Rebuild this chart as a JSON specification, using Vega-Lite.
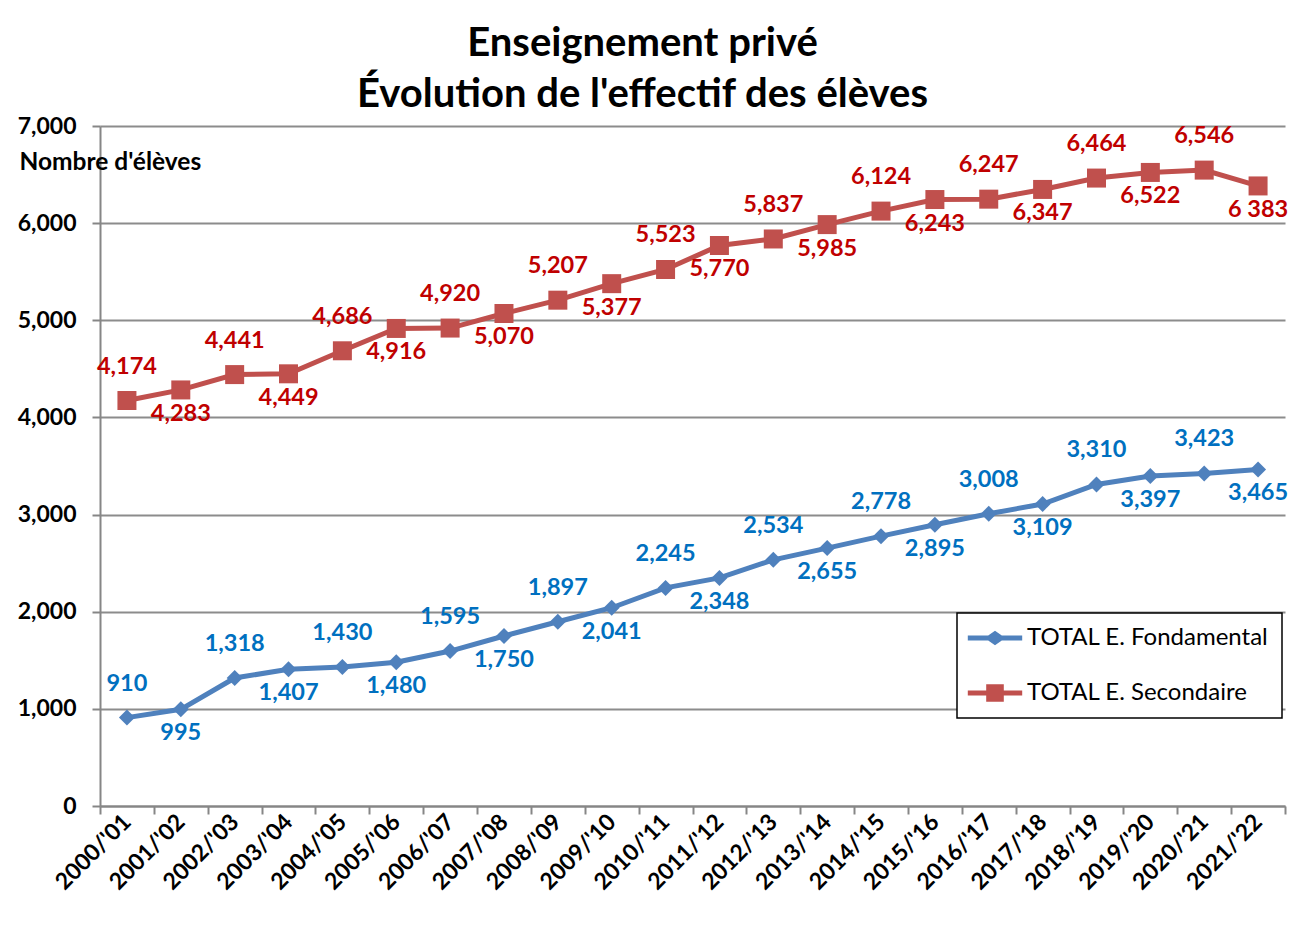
{
  "$schema": "https://vega.github.io/schema/vega-lite/v6.json",
  "width": 1185,
  "height": 680,
  "autosize": {"type": "none"},
  "padding": {"left": 100, "top": 126, "right": 22, "bottom": 120},
  "background": "white",
  "config": {"view": {"stroke": null}, "font": "Lato", "legend": {"strokeWidth": 1.5}},
  "title": {
    "text": ["Enseignement privé", "Évolution de l'effectif des élèves"],
    "font": "Lato",
    "fontSize": 40,
    "fontWeight": "bold",
    "color": "black",
    "anchor": "middle",
    "dx": -50,
    "offset": 0,
    "lineHeight": 51
  },
  "data": {
    "values": [
      {"year": "2000/'01", "series": "TOTAL E. Fondamental", "value": 910, "label": "910"},
      {"year": "2001/'02", "series": "TOTAL E. Fondamental", "value": 995, "label": "995"},
      {"year": "2002/'03", "series": "TOTAL E. Fondamental", "value": 1318, "label": "1,318"},
      {"year": "2003/'04", "series": "TOTAL E. Fondamental", "value": 1407, "label": "1,407"},
      {"year": "2004/'05", "series": "TOTAL E. Fondamental", "value": 1430, "label": "1,430"},
      {"year": "2005/'06", "series": "TOTAL E. Fondamental", "value": 1480, "label": "1,480"},
      {"year": "2006/'07", "series": "TOTAL E. Fondamental", "value": 1595, "label": "1,595"},
      {"year": "2007/'08", "series": "TOTAL E. Fondamental", "value": 1750, "label": "1,750"},
      {"year": "2008/'09", "series": "TOTAL E. Fondamental", "value": 1897, "label": "1,897"},
      {"year": "2009/'10", "series": "TOTAL E. Fondamental", "value": 2041, "label": "2,041"},
      {"year": "2010/'11", "series": "TOTAL E. Fondamental", "value": 2245, "label": "2,245"},
      {"year": "2011/'12", "series": "TOTAL E. Fondamental", "value": 2348, "label": "2,348"},
      {"year": "2012/'13", "series": "TOTAL E. Fondamental", "value": 2534, "label": "2,534"},
      {"year": "2013/'14", "series": "TOTAL E. Fondamental", "value": 2655, "label": "2,655"},
      {"year": "2014/'15", "series": "TOTAL E. Fondamental", "value": 2778, "label": "2,778"},
      {"year": "2015/'16", "series": "TOTAL E. Fondamental", "value": 2895, "label": "2,895"},
      {"year": "2016/'17", "series": "TOTAL E. Fondamental", "value": 3008, "label": "3,008"},
      {"year": "2017/'18", "series": "TOTAL E. Fondamental", "value": 3109, "label": "3,109"},
      {"year": "2018/'19", "series": "TOTAL E. Fondamental", "value": 3310, "label": "3,310"},
      {"year": "2019/'20", "series": "TOTAL E. Fondamental", "value": 3397, "label": "3,397"},
      {"year": "2020/'21", "series": "TOTAL E. Fondamental", "value": 3423, "label": "3,423"},
      {"year": "2021/'22", "series": "TOTAL E. Fondamental", "value": 3465, "label": "3,465"},
      {"year": "2000/'01", "series": "TOTAL E. Secondaire", "value": 4174, "label": "4,174"},
      {"year": "2001/'02", "series": "TOTAL E. Secondaire", "value": 4283, "label": "4,283"},
      {"year": "2002/'03", "series": "TOTAL E. Secondaire", "value": 4441, "label": "4,441"},
      {"year": "2003/'04", "series": "TOTAL E. Secondaire", "value": 4449, "label": "4,449"},
      {"year": "2004/'05", "series": "TOTAL E. Secondaire", "value": 4686, "label": "4,686"},
      {"year": "2005/'06", "series": "TOTAL E. Secondaire", "value": 4916, "label": "4,916"},
      {"year": "2006/'07", "series": "TOTAL E. Secondaire", "value": 4920, "label": "4,920"},
      {"year": "2007/'08", "series": "TOTAL E. Secondaire", "value": 5070, "label": "5,070"},
      {"year": "2008/'09", "series": "TOTAL E. Secondaire", "value": 5207, "label": "5,207"},
      {"year": "2009/'10", "series": "TOTAL E. Secondaire", "value": 5377, "label": "5,377"},
      {"year": "2010/'11", "series": "TOTAL E. Secondaire", "value": 5523, "label": "5,523"},
      {"year": "2011/'12", "series": "TOTAL E. Secondaire", "value": 5770, "label": "5,770"},
      {"year": "2012/'13", "series": "TOTAL E. Secondaire", "value": 5837, "label": "5,837"},
      {"year": "2013/'14", "series": "TOTAL E. Secondaire", "value": 5985, "label": "5,985"},
      {"year": "2014/'15", "series": "TOTAL E. Secondaire", "value": 6124, "label": "6,124"},
      {"year": "2015/'16", "series": "TOTAL E. Secondaire", "value": 6243, "label": "6,243"},
      {"year": "2016/'17", "series": "TOTAL E. Secondaire", "value": 6247, "label": "6,247"},
      {"year": "2017/'18", "series": "TOTAL E. Secondaire", "value": 6347, "label": "6,347"},
      {"year": "2018/'19", "series": "TOTAL E. Secondaire", "value": 6464, "label": "6,464"},
      {"year": "2019/'20", "series": "TOTAL E. Secondaire", "value": 6522, "label": "6,522"},
      {"year": "2020/'21", "series": "TOTAL E. Secondaire", "value": 6546, "label": "6,546"},
      {"year": "2021/'22", "series": "TOTAL E. Secondaire", "value": 6383, "label": "6 383"}
    ]
  },
  "transform": [
    {"window": [{"op": "row_number", "as": "idx"}], "groupby": ["series"]}
  ],
  "encoding": {
    "x": {
      "field": "year",
      "type": "nominal",
      "sort": null,
      "scale": {"type": "band", "paddingInner": 0, "paddingOuter": 0},
      "axis": {
        "title": null,
        "tickBand": "extent",
        "domainColor": "#868686",
        "domainWidth": 2,
        "tickColor": "#868686",
        "tickWidth": 2,
        "tickSize": 8,
        "grid": false,
        "labelAngle": -45,
        "labelAlign": "right",
        "labelBaseline": "middle",
        "labelFont": "Lato",
        "labelFontSize": 23,
        "labelFontWeight": "bold",
        "labelColor": "black",
        "labelPadding": 4
      }
    },
    "y": {
      "field": "value",
      "type": "quantitative",
      "scale": {"domain": [0, 7000], "nice": false},
      "axis": {
        "values": [0, 1000, 2000, 3000, 4000, 5000, 6000, 7000],
        "format": ",d",
        "title": "Nombre d'élèves",
        "titleAngle": 0,
        "titleAlign": "left",
        "titleBaseline": "middle",
        "titleX": -81,
        "titleY": 36,
        "titleFont": "Lato",
        "titleFontSize": 24.5,
        "titleFontWeight": "bold",
        "titleColor": "black",
        "domainColor": "#868686",
        "domainWidth": 2,
        "tickColor": "#868686",
        "tickWidth": 2,
        "tickSize": 8,
        "grid": true,
        "gridColor": "#8c8c8c",
        "gridWidth": 2,
        "labelFont": "Lato",
        "labelFontSize": 23,
        "labelFontWeight": "bold",
        "labelColor": "black",
        "labelPadding": 16
      }
    }
  },
  "layer": [
    {
      "mark": {"type": "line", "strokeWidth": 5},
      "encoding": {
        "detail": {"field": "series"},
        "color": {"condition": {"test": "datum.series === 'TOTAL E. Fondamental'", "value": "#4F81BD"}, "value": "#C0504D"}
      }
    },
    {
      "mark": {"type": "point", "filled": true, "opacity": 1},
      "encoding": {
        "color": {"condition": {"test": "datum.series === 'TOTAL E. Fondamental'", "value": "#4F81BD"}, "value": "#C0504D"},
        "shape": {"condition": {"test": "datum.series === 'TOTAL E. Fondamental'", "value": "diamond"}, "value": "square"},
        "size": {"condition": {"test": "datum.series === 'TOTAL E. Fondamental'", "value": 256}, "value": 361}
      }
    },
    {
      "transform": [{"filter": "false"}],
      "mark": {"type": "point", "filled": true, "opacity": 1},
      "encoding": {
        "color": {
          "field": "series",
          "type": "nominal",
          "scale": {"domain": ["TOTAL E. Fondamental", "TOTAL E. Secondaire"], "range": ["#4F81BD", "#C0504D"]},
          "legend": {
            "title": null,
            "orient": "none",
            "legendX": 857,
            "legendY": 487,
            "direction": "vertical",
            "strokeColor": "black",
            "fillColor": "white",
            "padding": 13,
            "rowPadding": 31,
            "symbolSize": 256,
            "symbolOpacity": 1,
            "symbolStrokeWidth": 0,
            "labelFont": "Lato",
            "labelFontSize": 24,
            "labelColor": "black",
            "labelLimit": 400,
            "labelOffset": 33,
            "offset": 0,
            "encode": {
              "symbols": {"update": {"x": {"value": 25}}}
            }
          }
        },
        "shape": {
          "field": "series",
          "type": "nominal",
          "scale": {
            "domain": ["TOTAL E. Fondamental", "TOTAL E. Secondaire"],
            "range": [
              "M-3.4,-0.3L-0.85,-0.3L0,-0.9L0.85,-0.3L3.4,-0.3L3.4,0.3L0.85,0.3L0,0.9L-0.85,0.3L-3.4,0.3Z",
              "M-3.4,-0.3L-1.1,-0.3L-1.1,-1.1L1.1,-1.1L1.1,-0.3L3.4,-0.3L3.4,0.3L1.1,0.3L1.1,1.1L-1.1,1.1L-1.1,0.3L-3.4,0.3Z"
            ]
          }
        }
      }
    },
    {
      "transform": [{"filter": "datum.idx % 2 == 1"}],
      "mark": {"type": "text", "font": "Lato", "fontSize": 23.5, "fontWeight": "bold", "dy": -34},
      "encoding": {
        "text": {"field": "label"},
        "color": {"condition": {"test": "datum.series === 'TOTAL E. Fondamental'", "value": "#0070C0"}, "value": "#C00000"}
      }
    },
    {
      "transform": [{"filter": "datum.idx % 2 == 0"}],
      "mark": {"type": "text", "font": "Lato", "fontSize": 23.5, "fontWeight": "bold", "dy": 24},
      "encoding": {
        "text": {"field": "label"},
        "color": {"condition": {"test": "datum.series === 'TOTAL E. Fondamental'", "value": "#0070C0"}, "value": "#C00000"}
      }
    }
  ]
}
